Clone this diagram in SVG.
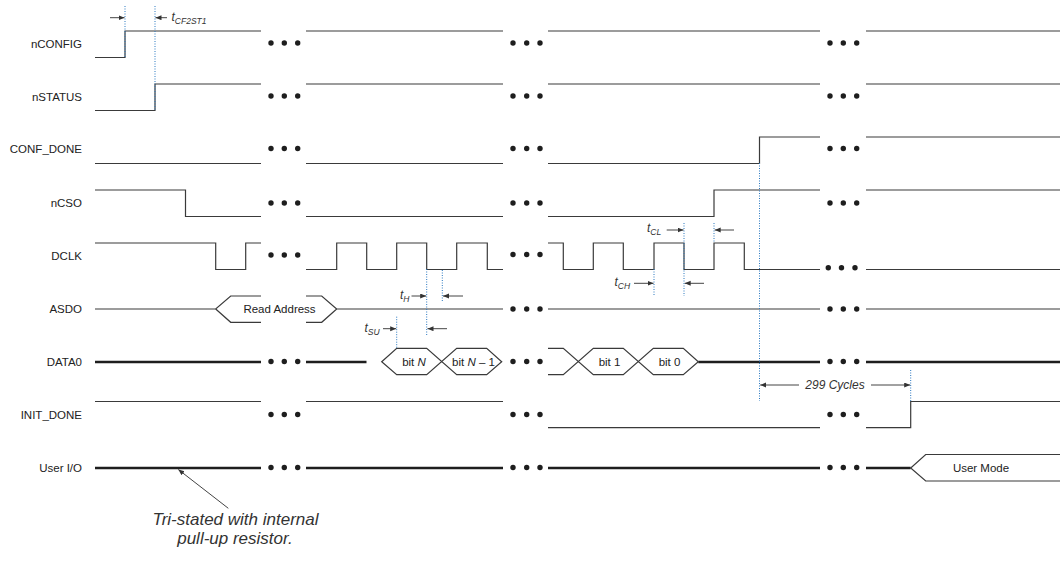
<svg xmlns="http://www.w3.org/2000/svg" width="1060" height="566" viewBox="0 0 1060 566">
<defs>
<style>
.lbl{font-family:"Liberation Sans",Arial,sans-serif;font-size:11.5px;fill:#222;text-anchor:end}
.bt{font-family:"Liberation Sans",Arial,sans-serif;font-size:11.5px;fill:#222;text-anchor:middle}
.tm{font-family:"Liberation Sans",Arial,sans-serif;font-size:12px;font-style:italic;fill:#333}
.sub{font-size:8.5px}
.sig{fill:none;stroke:#3a3a3a;stroke-width:1.2}
.thick{fill:none;stroke:#1e1e1e;stroke-width:2.6}
.dot{fill:#1e1e1e}
.dash{stroke:#2a78c0;stroke-width:1;stroke-dasharray:1 1.5;fill:none}
.arr{stroke:#444;stroke-width:1;fill:none;marker-end:url(#ah)}
.ann{font-family:"Liberation Sans",Arial,sans-serif;font-size:17px;font-style:italic;fill:#333;text-anchor:middle}
</style>
<marker id="ah" markerUnits="userSpaceOnUse" markerWidth="7" markerHeight="6" refX="6" refY="2.5" orient="auto">
<path d="M0,0 L6,2.5 L0,5 Z" fill="#333"/>
</marker>
</defs>
<rect width="1060" height="566" fill="#fff"/>

<g id="nCONFIG">
<text class="lbl" x="82" y="47.5">nCONFIG</text>
<path class="sig" d="M95,57.5 H125 V31 H261 M306,31 H503 M548,31 H820 M866,31 H1060"/>
<circle class="dot" cx="271" cy="43" r="2.7"/><circle class="dot" cx="284.3" cy="43" r="2.7"/><circle class="dot" cx="297.7" cy="43" r="2.7"/>
<circle class="dot" cx="513" cy="43" r="2.7"/><circle class="dot" cx="526.7" cy="43" r="2.7"/><circle class="dot" cx="540" cy="43" r="2.7"/>
<circle class="dot" cx="830" cy="43" r="2.7"/><circle class="dot" cx="843.3" cy="43" r="2.7"/><circle class="dot" cx="856.7" cy="43" r="2.7"/>
</g>

<g id="nSTATUS">
<text class="lbl" x="82" y="100.5">nSTATUS</text>
<path class="sig" d="M95,110.5 H155 V84 H261 M306,84 H503 M548,84 H820 M866,84 H1060"/>
<circle class="dot" cx="271" cy="96" r="2.7"/><circle class="dot" cx="284.3" cy="96" r="2.7"/><circle class="dot" cx="297.7" cy="96" r="2.7"/>
<circle class="dot" cx="513" cy="96" r="2.7"/><circle class="dot" cx="526.7" cy="96" r="2.7"/><circle class="dot" cx="540" cy="96" r="2.7"/>
<circle class="dot" cx="830" cy="96" r="2.7"/><circle class="dot" cx="843.3" cy="96" r="2.7"/><circle class="dot" cx="856.7" cy="96" r="2.7"/>
</g>

<g id="CONF_DONE">
<text class="lbl" x="82" y="153">CONF_DONE</text>
<path class="sig" d="M95,163.5 H261 M306,163.5 H503 M548,163.5 H759.5 V137 H820 M866,137 H1060"/>
<circle class="dot" cx="271" cy="148.5" r="2.7"/><circle class="dot" cx="284.3" cy="148.5" r="2.7"/><circle class="dot" cx="297.7" cy="148.5" r="2.7"/>
<circle class="dot" cx="513" cy="148.5" r="2.7"/><circle class="dot" cx="526.7" cy="148.5" r="2.7"/><circle class="dot" cx="540" cy="148.5" r="2.7"/>
<circle class="dot" cx="830" cy="148.5" r="2.7"/><circle class="dot" cx="843.3" cy="148.5" r="2.7"/><circle class="dot" cx="856.7" cy="148.5" r="2.7"/>
</g>

<g id="nCSO">
<text class="lbl" x="82" y="207">nCSO</text>
<path class="sig" d="M95,190 H185.5 V216.5 H261 M306,216.5 H503 M548,216.5 H714 V190 H820 M866,190 H1060"/>
<circle class="dot" cx="271" cy="203" r="2.7"/><circle class="dot" cx="284.3" cy="203" r="2.7"/><circle class="dot" cx="297.7" cy="203" r="2.7"/>
<circle class="dot" cx="513" cy="203" r="2.7"/><circle class="dot" cx="526.7" cy="203" r="2.7"/><circle class="dot" cx="540" cy="203" r="2.7"/>
<circle class="dot" cx="830" cy="203" r="2.7"/><circle class="dot" cx="843.3" cy="203" r="2.7"/><circle class="dot" cx="856.7" cy="203" r="2.7"/>
</g>

<g id="DCLK">
<text class="lbl" x="82" y="260">DCLK</text>
<path class="sig" d="M95,243 H215.7 V269.5 H245.7 V243 H261 M306,269.5 H336.7 V243 H366.7 V269.5 H396.7 V243 H426.7 V269.5 H456.7 V243 H487.3 V269.5 H503 M548,243 H563.3 V269.5 H593.3 V243 H623.3 V269.5 H654 V243 H684 V269.5 H714 V243 H744.3 V269.5 H820 M866,269.5 H1060"/>
<circle class="dot" cx="271" cy="255" r="2.7"/><circle class="dot" cx="284.3" cy="255" r="2.7"/><circle class="dot" cx="297.7" cy="255" r="2.7"/>
<circle class="dot" cx="513" cy="254.5" r="2.7"/><circle class="dot" cx="526.7" cy="254.5" r="2.7"/><circle class="dot" cx="540" cy="254.5" r="2.7"/>
<circle class="dot" cx="828.3" cy="267.7" r="2.7"/><circle class="dot" cx="841.5" cy="267.7" r="2.7"/><circle class="dot" cx="855" cy="267.7" r="2.7"/>
</g>

<g id="ASDO">
<text class="lbl" x="82" y="313">ASDO</text>
<path class="sig" d="M95,309 H215.7 L230.7,296 H261 M215.7,309 L230.7,322.3 H261 M306,296 H321.7 L336.7,309 L321.7,322.3 H306 M336.7,309 H503 M548,309 H820 M866,309 H1060"/>
<text class="bt" x="279.5" y="313">Read Address</text>
<circle class="dot" cx="513" cy="309" r="2.7"/><circle class="dot" cx="526.7" cy="309" r="2.7"/><circle class="dot" cx="540" cy="309" r="2.7"/>
<circle class="dot" cx="830" cy="309" r="2.7"/><circle class="dot" cx="843.3" cy="309" r="2.7"/><circle class="dot" cx="856.7" cy="309" r="2.7"/>
</g>

<g id="DATA0">
<text class="lbl" x="82" y="365.5">DATA0</text>
<path class="thick" d="M95,362 H261 M306,362 H366.5 M698.3,362 H820 M866,362 H1060"/>
<path class="sig" d="M381.7,361.7 L396.7,348.3 H426.7 L456.7,374.7 H486.7 L501.7,361.7 L486.7,348.3 H456.7 L426.7,374.7 H396.7 Z"/>
<path class="sig" d="M548,348.3 H563.3 L593.3,374.7 H623.3 L653.3,348.3 H683.3 L698.3,361.7 L683.3,374.7 H653.3 L623.3,348.3 H593.3 L563.3,374.7 H548"/>
<text class="bt" x="414" y="366">bit <tspan font-style="italic">N</tspan></text>
<text class="bt" x="473.5" y="366">bit <tspan font-style="italic">N</tspan> – 1</text>
<text class="bt" x="609.5" y="366">bit 1</text>
<text class="bt" x="669.5" y="366">bit 0</text>
<circle class="dot" cx="271" cy="361.5" r="2.7"/><circle class="dot" cx="284.3" cy="361.5" r="2.7"/><circle class="dot" cx="297.7" cy="361.5" r="2.7"/>
<circle class="dot" cx="513" cy="361.5" r="2.7"/><circle class="dot" cx="526.7" cy="361.5" r="2.7"/><circle class="dot" cx="540" cy="361.5" r="2.7"/>
<circle class="dot" cx="830" cy="361.5" r="2.7"/><circle class="dot" cx="843.3" cy="361.5" r="2.7"/><circle class="dot" cx="856.7" cy="361.5" r="2.7"/>
</g>

<g id="INIT_DONE">
<text class="lbl" x="82" y="418.5">INIT_DONE</text>
<path class="sig" d="M95,401.5 H261 M306,401.5 H503 M548,427.7 H820 M866,427.7 H910.7 V401.5 H1060"/>
<circle class="dot" cx="271" cy="414.5" r="2.7"/><circle class="dot" cx="284.3" cy="414.5" r="2.7"/><circle class="dot" cx="297.7" cy="414.5" r="2.7"/>
<circle class="dot" cx="513" cy="414.5" r="2.7"/><circle class="dot" cx="526.7" cy="414.5" r="2.7"/><circle class="dot" cx="540" cy="414.5" r="2.7"/>
<circle class="dot" cx="830" cy="414.5" r="2.7"/><circle class="dot" cx="843.3" cy="414.5" r="2.7"/><circle class="dot" cx="856.7" cy="414.5" r="2.7"/>
</g>

<g id="UserIO">
<text class="lbl" x="82" y="472">User I/O</text>
<path class="thick" d="M95,468 H261 M306,468 H503 M548,468 H820 M866,468 H910.7"/>
<path class="sig" d="M1062,454.5 H925.7 L910.7,468 L925.7,481 H1062"/>
<text class="bt" x="981" y="472">User Mode</text>
<circle class="dot" cx="271" cy="467.5" r="2.7"/><circle class="dot" cx="284.3" cy="467.5" r="2.7"/><circle class="dot" cx="297.7" cy="467.5" r="2.7"/>
<circle class="dot" cx="513" cy="467.5" r="2.7"/><circle class="dot" cx="526.7" cy="467.5" r="2.7"/><circle class="dot" cx="540" cy="467.5" r="2.7"/>
<circle class="dot" cx="830" cy="467.5" r="2.7"/><circle class="dot" cx="843.3" cy="467.5" r="2.7"/><circle class="dot" cx="856.7" cy="467.5" r="2.7"/>
</g>

<g id="timing">
<path class="dash" d="M125,6 V57 M155,6 V110 M426.7,269 V335 M442.3,270 V301.7 M396.7,316.7 V348 M654,269 V296 M684,223 V296 M714,223 V243 M759.5,163 V401 M910.7,370 V401"/>
<line class="arr" x1="110" y1="17.7" x2="124.5" y2="17.7"/>
<line class="arr" x1="167" y1="17.7" x2="155.5" y2="17.7"/>
<line class="arr" x1="411.5" y1="296" x2="426.2" y2="296"/>
<line class="arr" x1="463" y1="296" x2="443" y2="296"/>
<line class="arr" x1="383" y1="328.7" x2="396.2" y2="328.7"/>
<line class="arr" x1="447" y1="328.7" x2="427.5" y2="328.7"/>
<line class="arr" x1="666.7" y1="230" x2="683.5" y2="230"/>
<line class="arr" x1="734" y1="230" x2="714.7" y2="230"/>
<line class="arr" x1="634" y1="283.3" x2="653.5" y2="283.3"/>
<line class="arr" x1="704" y1="283.3" x2="684.7" y2="283.3"/>
<line class="arr" x1="799" y1="385" x2="760.2" y2="385"/>
<line class="arr" x1="871" y1="385" x2="910.2" y2="385"/>
<line class="arr" x1="228.3" y1="508.3" x2="178.3" y2="469.5"/>
<text class="tm" x="171.5" y="20.5">t<tspan class="sub" dy="3">CF2ST1</tspan></text>
<text class="tm" x="400" y="298.5">t<tspan class="sub" dy="3">H</tspan></text>
<text class="tm" x="364.5" y="331.5">t<tspan class="sub" dy="3">SU</tspan></text>
<text class="tm" x="647" y="232">t<tspan class="sub" dy="3">CL</tspan></text>
<text class="tm" x="614.5" y="285.5">t<tspan class="sub" dy="3">CH</tspan></text>
<text class="tm" x="835" y="388.5" text-anchor="middle" font-size="10.5">299 Cycles</text>
</g>

<g id="annotation">
<text class="ann" x="235.5" y="525">Tri-stated with internal</text>
<text class="ann" x="235" y="543.5">pull-up resistor.</text>
</g>
</svg>
